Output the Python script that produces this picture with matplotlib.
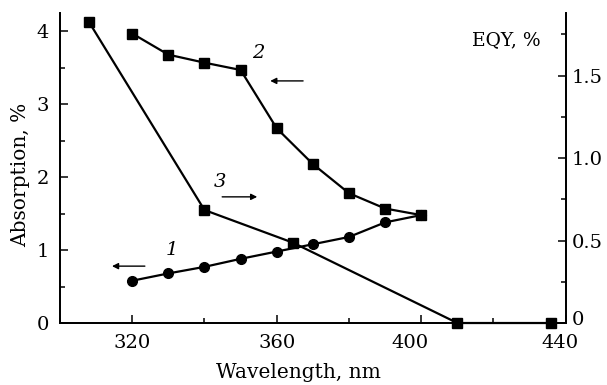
import matplotlib.pyplot as plt
import matplotlib.transforms as mtransforms
from matplotlib.ticker import MultipleLocator

plt.rcParams['font.family'] = ['DejaVu Serif']
plt.rcParams['mathtext.fontset'] = 'dejavuserif'

# curve 1: absorption (circles, left axis)
wl_1 = [320, 330, 340, 350, 360, 370, 380, 390, 400]
abs_1 = [0.58, 0.68, 0.77, 0.88, 0.98, 1.08, 1.18, 1.38, 1.48]
# curve 2: absorption (squares, left axis)
wl_2 = [320, 330, 340, 350, 360, 370, 380, 390, 400]
abs_2 = [3.97, 3.68, 3.57, 3.47, 2.67, 2.18, 1.78, 1.57, 1.48]
# curve 3: EQY (squares, right axis)
wl_3 = [308, 340, 364.5, 410, 436]
eqy_3 = [1.826, 0.685, 0.487, 0.0, 0.0]

fig = plt.figure(figsize=(6.07, 3.85), dpi=100)
ax = fig.add_axes([0.0988, 0.161, 0.8332, 0.805])
ax2 = ax.twinx()

ax.plot(wl_1, abs_1, '-o', color='black', lw=1.6, ms=7, clip_on=False)
ax.plot(wl_2, abs_2, '-s', color='black', lw=1.6, ms=7, clip_on=False)
ax2.plot(wl_3, eqy_3, '-s', color='black', lw=1.6, ms=7, clip_on=False, zorder=5)

ax.set_xlim(300, 440)
ax.set_ylim(0, 4.25)
ax2.set_ylim(0, 1.879)

ax.xaxis.set_major_locator(MultipleLocator(40))
ax.xaxis.set_minor_locator(MultipleLocator(20))
ax.yaxis.set_major_locator(MultipleLocator(1))
ax.yaxis.set_minor_locator(MultipleLocator(0.5))
ax2.yaxis.set_minor_locator(MultipleLocator(0.25))
ax2.set_yticks([0, 0.5, 1.0, 1.5])
ax2.set_yticklabels(['0', '0.5', '1.0', '1.5'])

for a in (ax, ax2):
    a.spines['top'].set_visible(False)
    for s in a.spines.values():
        s.set_linewidth(1.3)
    a.tick_params(axis='both', which='major', direction='in', length=6, width=1.1,
                  labelsize=14)
    a.tick_params(axis='both', which='minor', direction='in', length=3.5, width=1.1)
ax.tick_params(axis='y', right=False, pad=8)
ax.tick_params(axis='x', top=False, pad=8)
ax2.tick_params(axis='y', pad=4)

# nudge a few tick labels like in the original scan
fig.canvas.draw()
for lab in ax.get_xticklabels():
    if lab.get_text() == '400':
        lab.set_transform(lab.get_transform() + mtransforms.ScaledTranslation(-11 / 100, 0, fig.dpi_scale_trans))
    if lab.get_text() == '440':
        lab.set_transform(lab.get_transform() + mtransforms.ScaledTranslation(-6 / 100, 0, fig.dpi_scale_trans))
for lab in ax2.get_yticklabels():
    if lab.get_text() == '0':
        lab.set_transform(lab.get_transform() + mtransforms.ScaledTranslation(0, 5 / 100, fig.dpi_scale_trans))

ax.set_xlabel('Wavelength, nm', fontsize=14.5)
ax.xaxis.set_label_coords(0.471, -0.13)
ax.set_ylabel('Absorption, %', fontsize=14.5)
ax.yaxis.set_label_coords(-0.06, 0.477)
ax.text(0.95, 0.913, 'EQY, %', transform=ax.transAxes, ha='right', va='center', fontsize=13.5)

arrow = dict(arrowstyle='-|>', lw=1.0, color='black', mutation_scale=9, shrinkA=0, shrinkB=0)
ax.text(354.8, 3.70, '2', fontsize=14, style='italic', ha='center', va='center')
ax.annotate('', xy=(358.2, 3.32), xytext=(367.3, 3.32), arrowprops=arrow)
ax.text(344.3, 1.93, '3', fontsize=14, style='italic', ha='center', va='center')
ax.annotate('', xy=(354.6, 1.73), xytext=(344.9, 1.73), arrowprops=arrow)
ax.text(331.0, 1.00, '1', fontsize=14, style='italic', ha='center', va='center')
ax.annotate('', xy=(314.4, 0.78), xytext=(323.5, 0.78), arrowprops=arrow)

fig.savefig('out.png', dpi=100)
